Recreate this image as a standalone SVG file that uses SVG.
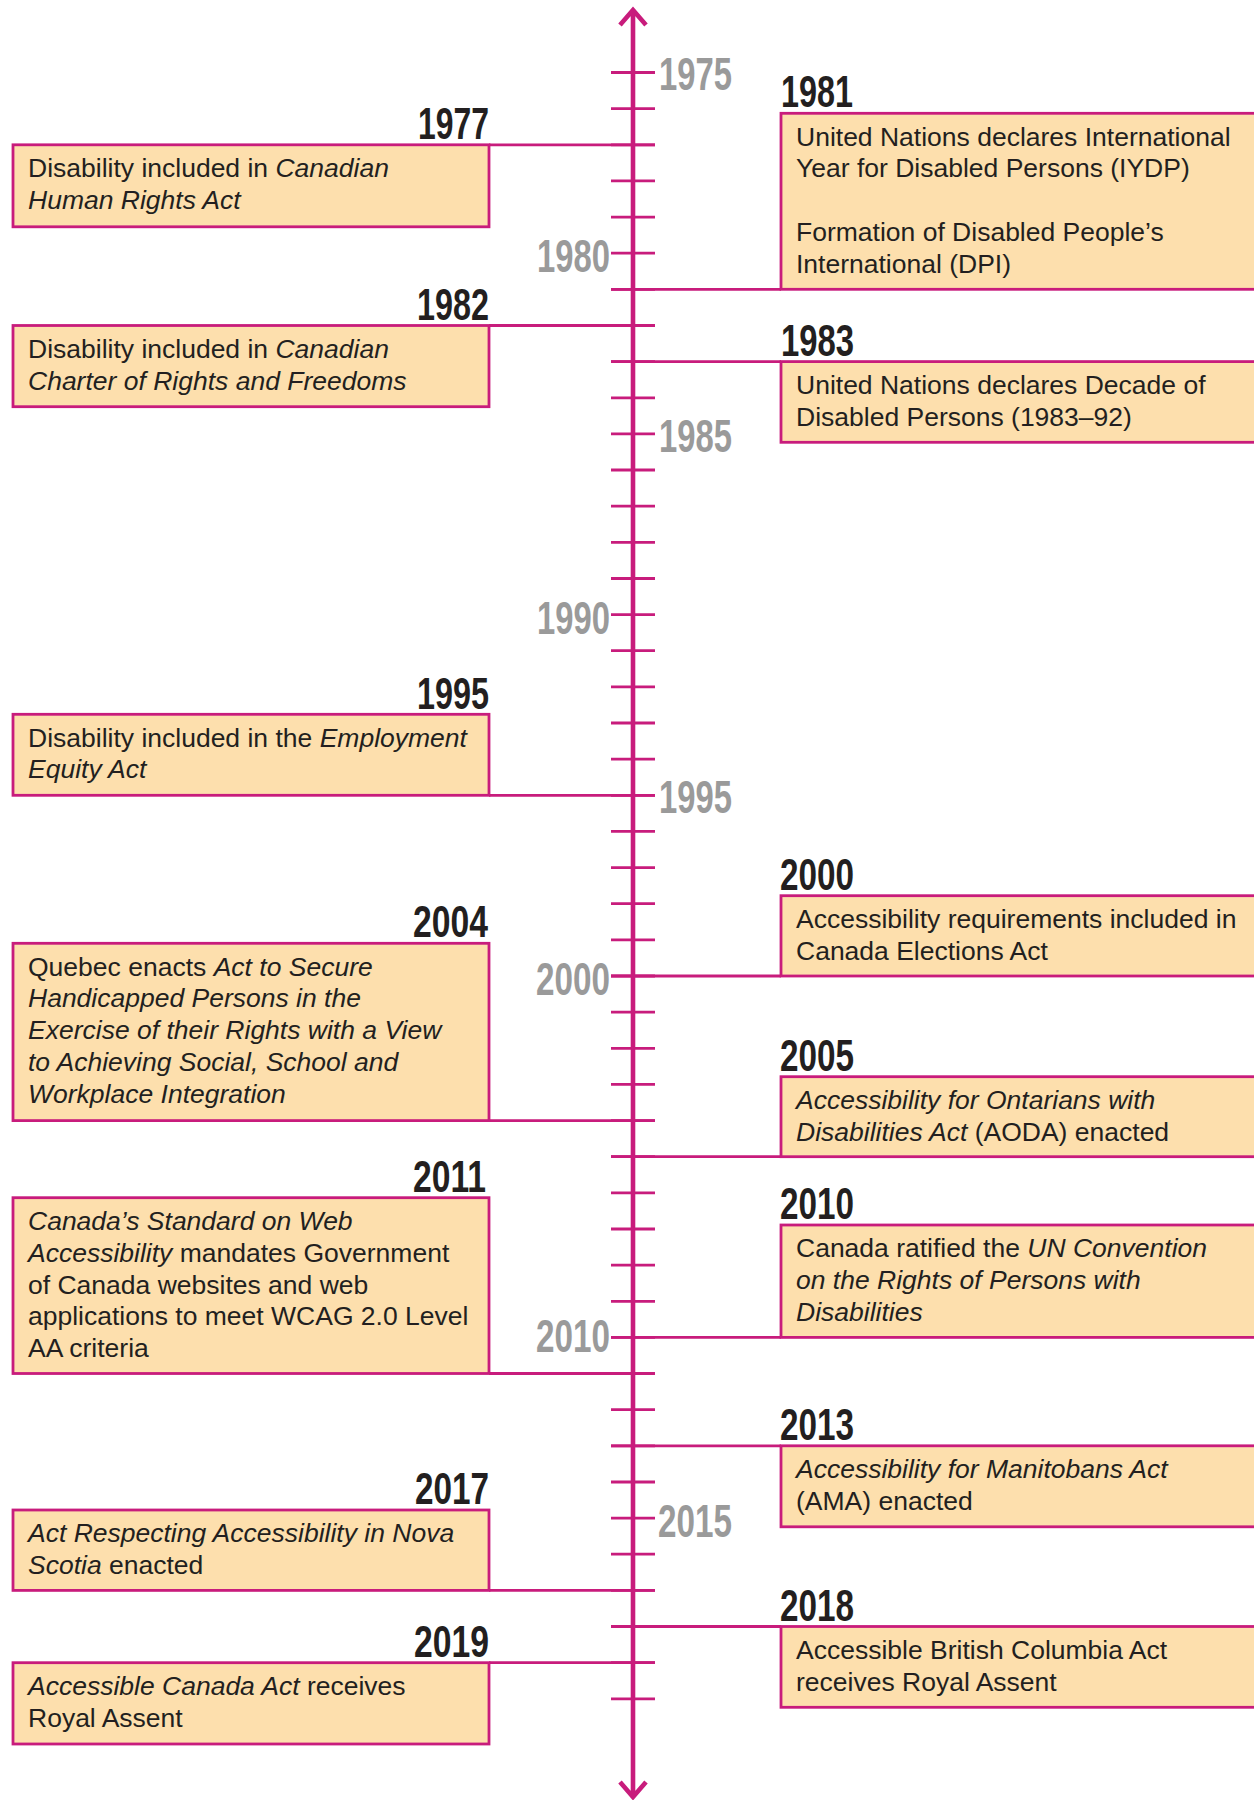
<svg xmlns="http://www.w3.org/2000/svg" width="1254" height="1800" viewBox="0 0 1254 1800">
<style>
.box{fill:#fddfad;stroke:#c81c7c;stroke-width:2.8}
.conn{stroke:#c81c7c;stroke-width:2.8;fill:none}
.axis{stroke:#c81c7c;stroke-width:4.6;fill:none}
.tick{stroke:#c81c7c;stroke-width:2.8;fill:none}
.t{font-family:"Liberation Sans",Arial,sans-serif;font-size:26.5px;fill:#231f20}
.i{font-style:italic}
.yr{font-family:"Liberation Sans",Arial,sans-serif;font-weight:bold;font-size:45px;fill:#231f20}
.ax{font-family:"Liberation Sans",Arial,sans-serif;font-weight:bold;font-size:46px;fill:#9a9a9a}
</style>
<rect width="1254" height="1800" fill="#ffffff"/>
<g id="axis">
<path class="axis" d="M633,10 V1797 M620,25 L633,10 L646,25 M620,1782 L633,1797 L646,1782"/>
<path class="tick" d="M611,72.5H655M611,108.6H655M611,144.8H655M611,180.9H655M611,217.1H655M611,253.2H655M611,289.3H655M611,325.5H655M611,361.6H655M611,397.8H655M611,433.9H655M611,470H655M611,506.2H655M611,542.3H655M611,578.5H655M611,614.6H655M611,650.7H655M611,686.9H655M611,723H655M611,759.2H655M611,795.3H655M611,831.4H655M611,867.6H655M611,903.7H655M611,939.9H655M611,976H655M611,1012.1H655M611,1048.3H655M611,1084.4H655M611,1120.6H655M611,1156.7H655M611,1192.8H655M611,1229H655M611,1265.1H655M611,1301.3H655M611,1337.4H655M611,1373.5H655M611,1409.7H655M611,1445.8H655M611,1482H655M611,1518.1H655M611,1554.2H655M611,1590.4H655M611,1626.5H655M611,1662.7H655M611,1698.8H655"/>
<text class="ax" x="659" y="90" textLength="73" lengthAdjust="spacingAndGlyphs">1975</text>
<text class="ax" x="537" y="271.5" textLength="73" lengthAdjust="spacingAndGlyphs">1980</text>
<text class="ax" x="659" y="452" textLength="73" lengthAdjust="spacingAndGlyphs">1985</text>
<text class="ax" x="537" y="633.5" textLength="73" lengthAdjust="spacingAndGlyphs">1990</text>
<text class="ax" x="659" y="813" textLength="73" lengthAdjust="spacingAndGlyphs">1995</text>
<text class="ax" x="536" y="995" textLength="74" lengthAdjust="spacingAndGlyphs">2000</text>
<text class="ax" x="536" y="1352" textLength="74" lengthAdjust="spacingAndGlyphs">2010</text>
<text class="ax" x="658" y="1536.5" textLength="74" lengthAdjust="spacingAndGlyphs">2015</text>
</g>
<g id="connectors">
<path class="conn" d="M489,144.8H655 M489,325.5H655 M489,795.3H655 M489,1120.6H655 M489,1373.5H655 M489,1590.4H655 M489,1662.7H655"/>
<path class="conn" d="M611,289.3H781 M611,361.6H781 M611,976H781 M611,1156.7H781 M611,1337.4H781 M611,1445.8H781 M611,1626.5H781"/>
</g>
<g id="e1977">
<rect class="box" x="13" y="144.8" width="476" height="82"/>
<text class="yr" x="418" y="139" textLength="71" lengthAdjust="spacingAndGlyphs">1977</text>
<text class="t" x="28" y="177.3">Disability included in <tspan class="i">Canadian</tspan></text>
<text class="t i" x="28" y="209.1">Human Rights Act</text>
</g>
<g id="e1982">
<rect class="box" x="13" y="325.5" width="476" height="81.2"/>
<text class="yr" x="417" y="319.5" textLength="72" lengthAdjust="spacingAndGlyphs">1982</text>
<text class="t" x="28" y="357.8">Disability included in <tspan class="i">Canadian</tspan></text>
<text class="t i" x="28" y="389.6">Charter of Rights and Freedoms</text>
</g>
<g id="e1995">
<rect class="box" x="13" y="714.3" width="476" height="81"/>
<text class="yr" x="417" y="709" textLength="72" lengthAdjust="spacingAndGlyphs">1995</text>
<text class="t" x="28" y="746.6">Disability included in the <tspan class="i">Employment</tspan></text>
<text class="t i" x="28" y="778.4">Equity Act</text>
</g>
<g id="e2004">
<rect class="box" x="13" y="943.3" width="476" height="177.3"/>
<text class="yr" x="413" y="937.3" textLength="75" lengthAdjust="spacingAndGlyphs">2004</text>
<text class="t" x="28" y="975.6">Quebec enacts <tspan class="i">Act to Secure</tspan></text>
<text class="t i" x="28" y="1007.4">Handicapped Persons in the</text>
<text class="t i" x="28" y="1039.2">Exercise of their Rights with a View</text>
<text class="t i" x="28" y="1071">to Achieving Social, School and</text>
<text class="t i" x="28" y="1102.8">Workplace Integration</text>
</g>
<g id="e2011">
<rect class="box" x="13" y="1197.7" width="476" height="175.8"/>
<text class="yr" x="413" y="1191.7" textLength="73" lengthAdjust="spacingAndGlyphs">2011</text>
<text class="t i" x="28" y="1230">Canada’s Standard on Web</text>
<text class="t" x="28" y="1261.8"><tspan class="i">Accessibility</tspan> mandates Government</text>
<text class="t" x="28" y="1293.6">of Canada websites and web</text>
<text class="t" x="28" y="1325.4">applications to meet WCAG 2.0 Level</text>
<text class="t" x="28" y="1357.2">AA criteria</text>
</g>
<g id="e2017">
<rect class="box" x="13" y="1510" width="476" height="80.4"/>
<text class="yr" x="415" y="1504" textLength="74" lengthAdjust="spacingAndGlyphs">2017</text>
<text class="t i" x="28" y="1542.3">Act Respecting Accessibility in Nova</text>
<text class="t" x="28" y="1574.1"><tspan class="i">Scotia</tspan> enacted</text>
</g>
<g id="e2019">
<rect class="box" x="13" y="1662.7" width="476" height="81.3"/>
<text class="yr" x="414" y="1656.7" textLength="75" lengthAdjust="spacingAndGlyphs">2019</text>
<text class="t" x="28" y="1695"><tspan class="i">Accessible Canada Act</tspan> receives</text>
<text class="t" x="28" y="1726.8">Royal Assent</text>
</g>
<g id="e1981">
<rect class="box" x="781" y="113.3" width="480" height="176"/>
<text class="yr" x="781" y="107.3" textLength="72" lengthAdjust="spacingAndGlyphs">1981</text>
<text class="t" x="796" y="145.6">United Nations declares International</text>
<text class="t" x="796" y="177.4">Year for Disabled Persons (IYDP)</text>
<text class="t" x="796" y="241">Formation of Disabled People’s</text>
<text class="t" x="796" y="272.8">International (DPI)</text>
</g>
<g id="e1983">
<rect class="box" x="781" y="361.6" width="480" height="80.7"/>
<text class="yr" x="781" y="355.6" textLength="73" lengthAdjust="spacingAndGlyphs">1983</text>
<text class="t" x="796" y="393.9">United Nations declares Decade of</text>
<text class="t" x="796" y="425.7">Disabled Persons (1983–92)</text>
</g>
<g id="e2000">
<rect class="box" x="781" y="895.7" width="480" height="80.3"/>
<text class="yr" x="780" y="889.7" textLength="74" lengthAdjust="spacingAndGlyphs">2000</text>
<text class="t" x="796" y="928">Accessibility requirements included in</text>
<text class="t" x="796" y="959.8">Canada Elections Act</text>
</g>
<g id="e2005">
<rect class="box" x="781" y="1076.7" width="480" height="80"/>
<text class="yr" x="780" y="1070.7" textLength="74" lengthAdjust="spacingAndGlyphs">2005</text>
<text class="t i" x="796" y="1109">Accessibility for Ontarians with</text>
<text class="t" x="796" y="1140.8"><tspan class="i">Disabilities Act</tspan> (AODA) enacted</text>
</g>
<g id="e2010">
<rect class="box" x="781" y="1225" width="480" height="112.4"/>
<text class="yr" x="780" y="1219" textLength="74" lengthAdjust="spacingAndGlyphs">2010</text>
<text class="t" x="796" y="1257.3">Canada ratified the <tspan class="i">UN Convention</tspan></text>
<text class="t i" x="796" y="1289.1">on the Rights of Persons with</text>
<text class="t i" x="796" y="1320.9">Disabilities</text>
</g>
<g id="e2013">
<rect class="box" x="781" y="1445.8" width="480" height="81"/>
<text class="yr" x="780" y="1439.8" textLength="74" lengthAdjust="spacingAndGlyphs">2013</text>
<text class="t i" x="796" y="1478.1">Accessibility for Manitobans Act</text>
<text class="t" x="796" y="1509.9">(AMA) enacted</text>
</g>
<g id="e2018">
<rect class="box" x="781" y="1626.5" width="480" height="80.8"/>
<text class="yr" x="780" y="1620.5" textLength="74" lengthAdjust="spacingAndGlyphs">2018</text>
<text class="t" x="796" y="1658.8">Accessible British Columbia Act</text>
<text class="t" x="796" y="1690.6">receives Royal Assent</text>
</g>
</svg>
